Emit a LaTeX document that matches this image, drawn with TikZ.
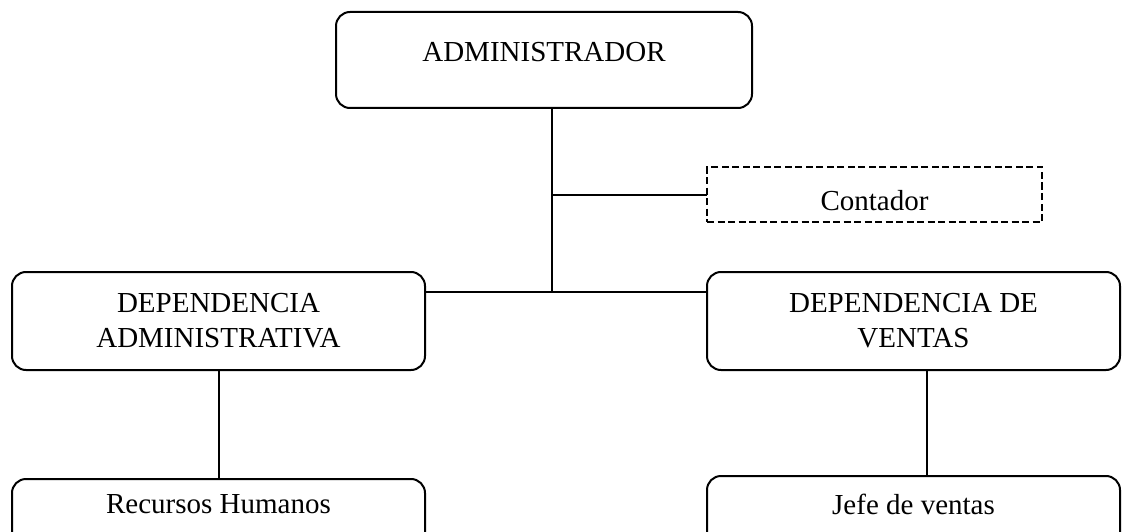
\documentclass[tikz,border=0pt]{standalone}
\usepackage{fontspec}
\setmainfont{Liberation Serif}
\begin{document}
\begin{tikzpicture}[x=1pt,y=-1pt,
  every node/.style={font=\fontsize{29}{35}\selectfont, inner sep=0pt, outer sep=0pt},
  rbox/.style={draw, line width=2pt, rounded corners=14pt, align=center},
  dbox/.style={draw, line width=2pt, dash pattern=on 7pt off 3.5pt},
  link/.style={line width=2pt}]
\clip (0,0) rectangle (1122,532);
\node[rbox, minimum width=416pt, minimum height=96pt, text height=19pt, text depth=15pt] (admin) at (544,60) {ADMINISTRADOR};
\node[dbox, minimum width=335pt, minimum height=55pt, text height=31pt, text depth=0pt] (cont) at (874.5,194.5) {Contador};
\node[rbox, minimum width=413pt, minimum height=98pt] (dadm) at (218.5,321) {DEPENDENCIA\\ADMINISTRATIVA};
\node[rbox, minimum width=413pt, minimum height=98pt] (dven) at (913.5,321) {DEPENDENCIA DE\\VENTAS};
\node[rbox, minimum width=413pt, minimum height=81pt, text height=19pt, text depth=32pt] (rh) at (218.5,519.5) {Recursos Humanos};
\node[rbox, minimum width=413pt, minimum height=84pt, text height=19pt, text depth=27pt] (jefe) at (913.5,518) {Jefe de ventas};
\coordinate (j1) at (552,292);
\draw[link] (admin.south -| j1) -- (j1);
\draw[link] (cont.west) -- (cont.west -| j1);
\draw[link] (dadm.east |- j1) -- (dven.west |- j1);
\draw[link] (dadm.south) -- (rh.north);
\draw[link] ([xshift=13.5pt]dven.south) -- ([xshift=13.5pt]jefe.north);
\end{tikzpicture}
\end{document}
